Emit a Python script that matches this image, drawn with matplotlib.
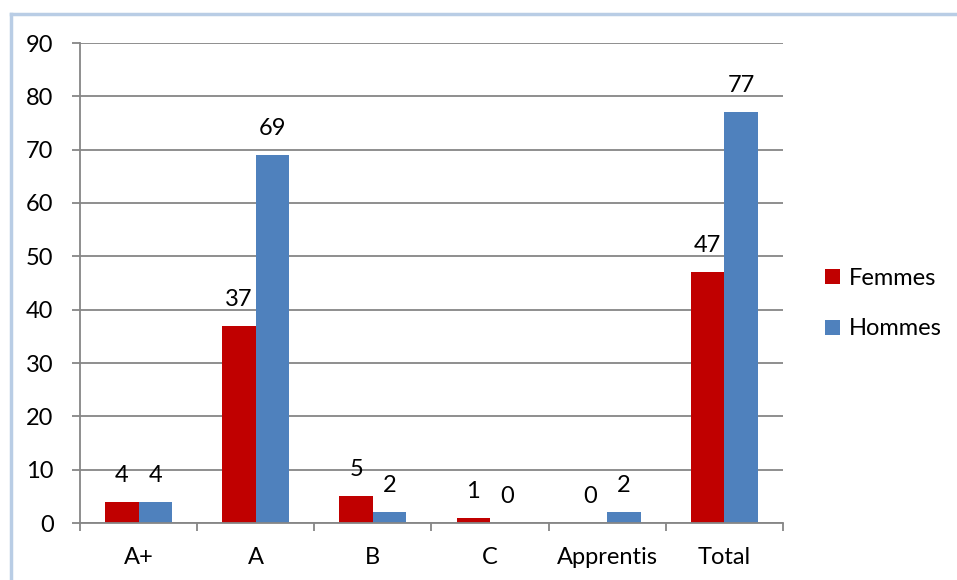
import matplotlib.pyplot as plt
import numpy as np

# data
categories = ['A+', 'A', 'B', 'C', 'Apprentis', 'Total']
femmes = [4, 37, 5, 1, 0, 47]
hommes = [4, 69, 2, 0, 2, 77]

red = '#C00000'
blue = '#4F81BD'
grid_col = '#868686'
fs = 17

plt.rcParams['font.family'] = ['Lato', 'DejaVu Sans']

fig = plt.figure(figsize=(9.57, 5.8), dpi=100)
ax = fig.add_axes([80 / 957, 57 / 580, 703 / 957, 480 / 580])

x = np.arange(len(categories))
w = 0.286
b1 = ax.bar(x - w / 2, femmes, w, color=red, label='Femmes')
b2 = ax.bar(x + w / 2, hommes, w, color=blue, label='Hommes')

for bars, vals in ((b1, femmes), (b2, hommes)):
    for r, v in zip(bars, vals):
        ax.annotate(str(v), (r.get_x() + r.get_width() / 2, v),
                    xytext=(0, 19), textcoords='offset points',
                    ha='center', va='center', fontsize=fs)

ax.set_xlim(-0.5, len(categories) - 0.5)
ax.set_ylim(0, 90)
ax.set_yticks(range(0, 91, 10))
ax.yaxis.grid(True, color=grid_col, linewidth=1.3)
ax.set_axisbelow(True)

ax.set_xticks(x)
ax.set_xticklabels(categories)
ax.set_xticks(np.arange(-0.5, len(categories), 1), minor=True)
ax.tick_params(axis='x', which='major', length=0, pad=17, labelsize=fs)
ax.tick_params(axis='x', which='minor', length=6, width=1.3, color=grid_col)
ax.tick_params(axis='y', length=6, width=1.3, color=grid_col, labelsize=fs, pad=13)

for s in ('top', 'right'):
    ax.spines[s].set_visible(False)
for s in ('left', 'bottom'):
    ax.spines[s].set_color(grid_col)
    ax.spines[s].set_linewidth(1.3)

ax.legend(loc='center left', bbox_to_anchor=(1.03, 0.457), frameon=False,
          fontsize=fs, handlelength=0.6, handleheight=0.6,
          handletextpad=0.4, labelspacing=1.25)

# light blue frame lines (top and left)
fig.add_artist(plt.Line2D([11 / 957, 1], [1 - 14 / 580, 1 - 14 / 580],
                          transform=fig.transFigure, color='#B9CDE5', linewidth=2.5))
fig.add_artist(plt.Line2D([11 / 957, 11 / 957], [0, 1 - 14 / 580],
                          transform=fig.transFigure, color='#B9CDE5', linewidth=2.5))

fig.savefig('out.png', dpi=100)
